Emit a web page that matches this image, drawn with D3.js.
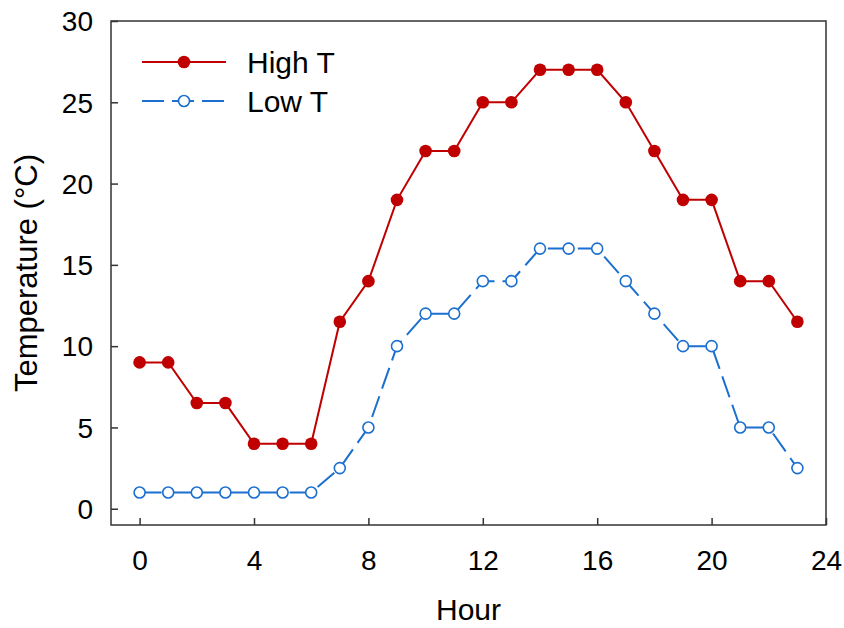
<!DOCTYPE html>
<html><head><meta charset="utf-8">
<script src="https://cdn.jsdelivr.net/npm/d3@7"></script>
<style>body{margin:0;background:#fff;} text{font-family:"Liberation Sans",Arial,sans-serif;}</style>
</head><body>
<svg id="chart" width="844" height="628"></svg>
<script>
const hours = d3.range(0, 24);
const highT = [9,9,6.5,6.5,4,4,4,11.5,14,19,22,22,25,25,27,27,27,25,22,19,19,14,14,11.5];
const lowT  = [1,1,1,1,1,1,1,2.5,5,10,12,12,14,14,16,16,16,14,12,10,10,5,5,2.5];
const xTicks = [0,4,8,12,16,20,24];
const yTicks = [0,5,10,15,20,25,30];
const seriesNames = ["High T","Low T"];

const svg = d3.select("#chart");
const L = 111, R = 826, T = 21, B = 525;
const x = d3.scaleLinear().domain([-1, 24]).range([L, R]);
const y = d3.scaleLinear().domain([-1, 30]).range([B, T]);
const red = "#c00000", blue = "#1a6fcf";
const dash = "22,8";

// frame
svg.append("rect").attr("x", L).attr("y", T).attr("width", R-L).attr("height", B-T)
  .attr("fill","none").attr("stroke","#333").attr("stroke-width",1.5);

// x axis
const xa = svg.append("g").attr("transform",`translate(0,${B})`)
  .call(d3.axisBottom(x).tickValues(xTicks).tickSize(-7).tickPadding(25));
xa.select(".domain").remove();
xa.selectAll("line").attr("stroke","#333").attr("stroke-width",1.5);
xa.selectAll("text").attr("font-size",28).attr("fill","#000").style("font-family","Liberation Sans, Arial, sans-serif");

// y axis
const ya = svg.append("g").attr("transform",`translate(${L},0)`)
  .call(d3.axisLeft(y).tickValues(yTicks).tickSize(-7).tickPadding(18));
ya.select(".domain").remove();
ya.selectAll("line").attr("stroke","#333").attr("stroke-width",1.5);
ya.selectAll("text").attr("font-size",28).attr("fill","#000").attr("dy","0.35em").style("font-family","Liberation Sans, Arial, sans-serif");

// titles
svg.append("text").attr("x", (L+R)/2).attr("y", 620).attr("text-anchor","middle")
  .attr("font-size",30).text("Hour");
svg.append("text").attr("transform",`translate(37,${(T+B)/2}) rotate(-90)`).attr("text-anchor","middle")
  .attr("font-size",31).text("Temperature (°C)");

const line = d3.line().x((d,i)=>x(hours[i])).y(d=>y(d));

svg.append("path").datum(lowT).attr("d", line).attr("fill","none")
  .attr("stroke",blue).attr("stroke-width",2).attr("stroke-dasharray",dash);
svg.append("path").datum(highT).attr("d", line).attr("fill","none")
  .attr("stroke",red).attr("stroke-width",2);

svg.selectAll(".hi").data(highT).enter().append("circle")
  .attr("cx",(d,i)=>x(hours[i])).attr("cy",d=>y(d)).attr("r",6.3).attr("fill",red);
svg.selectAll(".lo").data(lowT).enter().append("circle")
  .attr("cx",(d,i)=>x(hours[i])).attr("cy",d=>y(d)).attr("r",5.5)
  .attr("fill","#fff").attr("stroke",blue).attr("stroke-width",1.6);

// legend
const lg = svg.append("g");
lg.append("line").attr("x1",142).attr("x2",226).attr("y1",62).attr("y2",62).attr("stroke",red).attr("stroke-width",2);
lg.append("circle").attr("cx",184).attr("cy",62).attr("r",6.3).attr("fill",red);
lg.append("text").attr("x",247).attr("y",62).attr("dy","0.35em").attr("font-size",30).text(seriesNames[0]);
lg.append("line").attr("x1",142).attr("x2",226).attr("y1",101).attr("y2",101).attr("stroke",blue).attr("stroke-width",2).attr("stroke-dasharray",dash);
lg.append("circle").attr("cx",184).attr("cy",101).attr("r",5.5).attr("fill","#fff").attr("stroke",blue).attr("stroke-width",1.6);
lg.append("text").attr("x",247).attr("y",101).attr("dy","0.35em").attr("font-size",30).text(seriesNames[1]);
</script>
</body></html>
